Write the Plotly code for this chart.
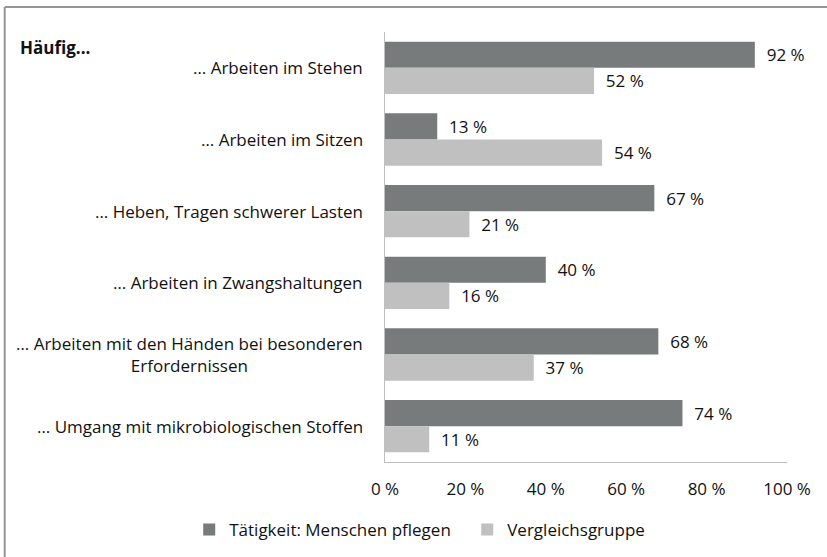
import plotly.graph_objects as go

categories = [
    "… Arbeiten im Stehen",
    "… Arbeiten im Sitzen",
    "… Heben, Tragen schwerer Lasten",
    "… Arbeiten in Zwangshaltungen",
    "… Arbeiten mit den Händen bei besonderen<br>Erfordernissen",
    "… Umgang mit mikrobiologischen Stoffen",
]
pflege = [92, 13, 67, 40, 68, 74]
vergleich = [52, 54, 21, 16, 37, 11]
series_names = ["Tätigkeit: Menschen pflegen", "Vergleichsgruppe"]
tick_vals = [0, 20, 40, 60, 80, 100]
tick_text = ["0 %", "20 %", "40 %", "60 %", "80 %", "100 %"]

FONT = "Open Sans"
FS = 17
dark = "#777b7b"
light = "#c0c0c0"
frame = "#929696"

fig = go.Figure()
for name, vals, col in [(series_names[0], pflege, dark), (series_names[1], vergleich, light)]:
    fig.add_trace(go.Bar(
        y=categories, x=vals, orientation="h", name=name,
        marker=dict(color=col, line=dict(width=0)),
        text=[f"{v} %" for v in vals],
        texttemplate="  %{text}",
        textposition="outside", cliponaxis=False,
        textfont=dict(family=FONT, size=FS, color="#111"),
    ))

annotations = []
for c in categories:
    annotations.append(dict(
        x=-0.05, xref="paper", y=c, yref="y", text=c, showarrow=False,
        xanchor="right", yanchor="middle", align="center",
        font=dict(family=FONT, size=FS, color="#111"),
    ))
annotations.append(dict(
    x=-0.912, xref="paper", y=0.965, yref="paper", text="<b>Häufig...</b>",
    showarrow=False, xanchor="left", yanchor="middle",
    font=dict(family=FONT, size=FS, color="#111"),
))

fig.update_layout(
    width=827, height=557,
    margin=dict(l=385, r=40, t=32, b=95, autoexpand=False),
    paper_bgcolor="white", plot_bgcolor="white",
    barmode="group", bargap=0.27, bargroupgap=0,
    font=dict(family=FONT, size=FS, color="#111"),
    showlegend=True,
    legend=dict(orientation="h", x=-0.487, xanchor="left", y=-0.158, yanchor="middle",
                font=dict(family=FONT, size=FS, color="#111"),
                itemwidth=30, entrywidth=233, traceorder="normal"),
    annotations=annotations,
    shapes=[
        dict(type="line", xref="paper", yref="paper", x0=-0.946, x1=1.1, y0=1.058, y1=1.058,
             line=dict(color=frame, width=2)),
        dict(type="line", xref="paper", yref="paper", x0=-0.946, x1=-0.946, y0=1.058, y1=-0.23,
             line=dict(color=frame, width=2)),
    ],
)
fig.update_xaxes(range=[0, 100], tickmode="array", tickvals=tick_vals, ticktext=tick_text,
                 automargin=False,
                 showgrid=False, zeroline=False, showline=True, linecolor="#bfbfbf", linewidth=1,
                 ticks="outside", ticklen=12, tickcolor="rgba(0,0,0,0)",
                 tickfont=dict(family=FONT, size=FS, color="#111"))
fig.update_yaxes(autorange="reversed", showticklabels=False, showgrid=False, automargin=False,
                 showline=True, linecolor="#bfbfbf", linewidth=1, ticks="")

fig.write_html("out.html", config={"displayModeBar": False},
               post_script="document.body.style.margin='0';")
